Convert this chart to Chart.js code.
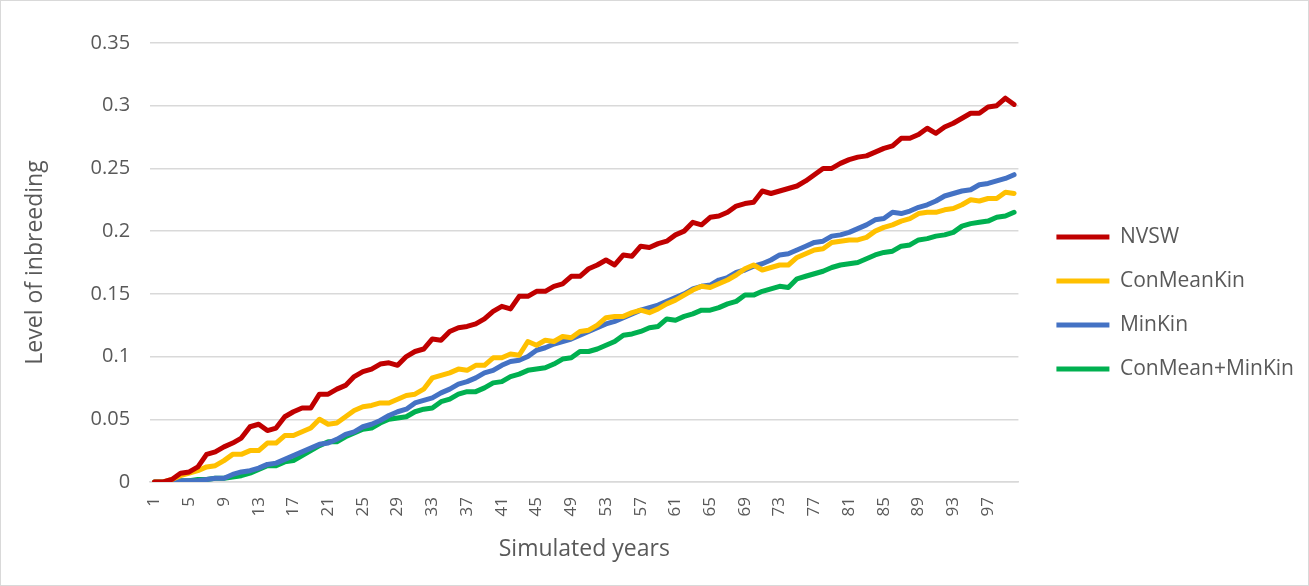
<!DOCTYPE html>
<html>
<head>
<meta charset="utf-8">
<script src="https://cdn.jsdelivr.net/npm/chart.js@4.4.1/dist/chart.umd.min.js"></script>
<style>
  html, body { margin: 0; padding: 0; background: #fff; }
  #wrap { position: relative; width: 1307px; height: 584px; border: 1px solid #d9d9d9; }
  canvas { display: block; }
</style>
</head>
<body>
<div id="wrap"><canvas id="chart" width="1307" height="584"></canvas></div>
<script>
// Simulated years 1..100
const years = Array.from({ length: 100 }, (_, i) => String(i + 1));

const nvsw = [
  0, 0, 0.002, 0.007, 0.008, 0.012, 0.022, 0.024, 0.028, 0.031,
  0.035, 0.044, 0.046, 0.041, 0.043, 0.052, 0.056, 0.059, 0.059, 0.070,
  0.070, 0.074, 0.077, 0.084, 0.088, 0.090, 0.094, 0.095, 0.093, 0.100,
  0.104, 0.106, 0.114, 0.113, 0.120, 0.123, 0.124, 0.126, 0.130, 0.136,
  0.140, 0.138, 0.148, 0.148, 0.152, 0.152, 0.156, 0.158, 0.164, 0.164,
  0.170, 0.173, 0.177, 0.173, 0.181, 0.180, 0.188, 0.187, 0.190, 0.192,
  0.197, 0.200, 0.207, 0.205, 0.211, 0.212, 0.215, 0.220, 0.222, 0.223,
  0.232, 0.230, 0.232, 0.234, 0.236, 0.240, 0.245, 0.250, 0.250, 0.254,
  0.257, 0.259, 0.260, 0.263, 0.266, 0.268, 0.274, 0.274, 0.277, 0.282,
  0.278, 0.283, 0.286, 0.290, 0.294, 0.294, 0.299, 0.300, 0.306, 0.301
];

const conMeanKin = [
  0, 0, 0.002, 0.005, 0.007, 0.009, 0.012, 0.013, 0.017, 0.022,
  0.022, 0.025, 0.025, 0.031, 0.031, 0.037, 0.037, 0.040, 0.043, 0.050,
  0.046, 0.047, 0.052, 0.057, 0.060, 0.061, 0.063, 0.063, 0.066, 0.069,
  0.070, 0.074, 0.083, 0.085, 0.087, 0.090, 0.089, 0.093, 0.093, 0.099,
  0.099, 0.102, 0.101, 0.112, 0.109, 0.113, 0.112, 0.116, 0.115, 0.120,
  0.121, 0.125, 0.131, 0.132, 0.132, 0.135, 0.137, 0.135, 0.138, 0.142,
  0.145, 0.149, 0.153, 0.156, 0.155, 0.158, 0.161, 0.165, 0.170, 0.173,
  0.169, 0.171, 0.173, 0.173, 0.179, 0.182, 0.185, 0.186, 0.191, 0.192,
  0.193, 0.193, 0.195, 0.200, 0.203, 0.205, 0.208, 0.210, 0.214, 0.215,
  0.215, 0.217, 0.218, 0.221, 0.225, 0.224, 0.226, 0.226, 0.231, 0.230
];

const minKin = [
  0, 0, 0, 0.001, 0.001, 0.001, 0.002, 0.003, 0.003, 0.006,
  0.008, 0.009, 0.011, 0.014, 0.015, 0.018, 0.021, 0.024, 0.027, 0.030,
  0.031, 0.034, 0.038, 0.040, 0.044, 0.046, 0.049, 0.053, 0.056, 0.058,
  0.063, 0.065, 0.067, 0.071, 0.074, 0.078, 0.080, 0.083, 0.087, 0.089,
  0.093, 0.096, 0.097, 0.100, 0.105, 0.107, 0.110, 0.112, 0.114, 0.117,
  0.120, 0.123, 0.126, 0.128, 0.131, 0.134, 0.137, 0.139, 0.141, 0.144,
  0.147, 0.150, 0.154, 0.156, 0.157, 0.161, 0.163, 0.167, 0.169, 0.172,
  0.174, 0.177, 0.181, 0.182, 0.185, 0.188, 0.191, 0.192, 0.196, 0.197,
  0.199, 0.202, 0.205, 0.209, 0.210, 0.215, 0.214, 0.216, 0.219, 0.221,
  0.224, 0.228, 0.230, 0.232, 0.233, 0.237, 0.238, 0.240, 0.242, 0.245
];

const conMeanMinKin = [
  0, 0, 0, 0.001, 0.001, 0.002, 0.002, 0.003, 0.003, 0.004,
  0.005, 0.007, 0.010, 0.013, 0.013, 0.016, 0.017, 0.021, 0.025, 0.029,
  0.032, 0.032, 0.036, 0.039, 0.042, 0.043, 0.047, 0.050, 0.051, 0.052,
  0.056, 0.058, 0.059, 0.064, 0.066, 0.070, 0.072, 0.072, 0.075, 0.079,
  0.080, 0.084, 0.086, 0.089, 0.090, 0.091, 0.094, 0.098, 0.099, 0.104,
  0.104, 0.106, 0.109, 0.112, 0.117, 0.118, 0.120, 0.123, 0.124, 0.130,
  0.129, 0.132, 0.134, 0.137, 0.137, 0.139, 0.142, 0.144, 0.149, 0.149,
  0.152, 0.154, 0.156, 0.155, 0.162, 0.164, 0.166, 0.168, 0.171, 0.173,
  0.174, 0.175, 0.178, 0.181, 0.183, 0.184, 0.188, 0.189, 0.193, 0.194,
  0.196, 0.197, 0.199, 0.204, 0.206, 0.207, 0.208, 0.211, 0.212, 0.215
];

const yTicks = [0, 0.05, 0.1, 0.15, 0.2, 0.25, 0.3, 0.35];

const FONT = "'Open Sans', 'Liberation Sans', sans-serif";
const TEXT = '#595959';
const LEGEND_SHIFT = 15; // legend sits a little further right than the layout puts it

function series(label, data, color) {
  return {
    label, data,
    borderColor: color,
    backgroundColor: color,
    borderWidth: 5,
    pointRadius: 0,
    pointHoverRadius: 0,
    tension: 0,
    borderCapStyle: 'round',
    borderJoinStyle: 'round'
  };
}

// Moves the legend to the right once the layout is settled.
const legendOffset = {
  id: 'legendOffset',
  afterLayout(chart) {
    const lg = chart.legend;
    if (lg) { lg.left += LEGEND_SHIFT; lg.right += LEGEND_SHIFT; }
  }
};

new Chart(document.getElementById('chart'), {
  type: 'line',
  data: {
    labels: years,
    datasets: [
      series('NVSW', nvsw, '#c00000'),
      series('ConMeanKin', conMeanKin, '#ffc000'),
      series('MinKin', minKin, '#4472c4'),
      series('ConMean+MinKin', conMeanMinKin, '#00b050')
    ]
  },
  plugins: [legendOffset],
  options: {
    responsive: false,
    animation: false,
    layout: { padding: { left: 10, right: 19, top: 42, bottom: 22 } },
    plugins: {
      tooltip: { enabled: false },
      legend: {
        position: 'right',
        align: 'center',
        labels: {
          boxWidth: 53,
          boxHeight: 5,
          padding: 23,
          color: TEXT,
          font: { family: FONT, size: 21 },
          generateLabels(chart) {
            const items = Chart.defaults.plugins.legend.labels.generateLabels(chart);
            items.forEach(it => { it.lineWidth = 0; });
            return items;
          }
        }
      }
    },
    scales: {
      x: {
        offset: true,
        grid: { display: false, drawTicks: false },
        border: { display: true, color: '#d9d9d9', width: 1.5 },
        afterCalculateLabelRotation: (axis) => { axis.labelRotation = 90; },
        ticks: {
          color: TEXT,
          font: { family: FONT, size: 17 },
          minRotation: 90,
          maxRotation: 90,
          autoSkip: false,
          padding: 15,
          callback: (v, i) => (i % 4 === 0 ? years[i] : null)
        },
        title: {
          display: true,
          text: 'Simulated years',
          color: TEXT,
          font: { family: FONT, size: 23 },
          padding: { top: 4, bottom: 0 }
        }
      },
      y: {
        min: 0,
        max: 0.35,
        afterBuildTicks: (axis) => { axis.ticks = yTicks.map(v => ({ value: v })); },
        grid: { color: '#d9d9d9', lineWidth: 1.5, drawTicks: false },
        border: { display: false },
        ticks: {
          color: TEXT,
          font: { family: FONT, size: 20 },
          padding: 20,
          callback: (v) => String(Number(v.toFixed(2)))
        },
        title: {
          display: true,
          text: 'Level of inbreeding',
          color: TEXT,
          font: { family: FONT, size: 23 },
          padding: { top: 11, bottom: 21 }
        }
      }
    }
  }
});
</script>
</body>
</html>
